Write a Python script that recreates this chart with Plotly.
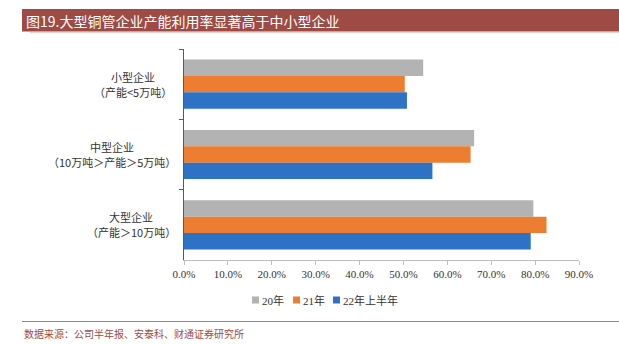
import plotly.graph_objects as go

cat_line1 = ["小型企业", "中型企业", "大型企业"]
cat_line2 = ["（产能<5万吨）", "（10万吨＞产能＞5万吨）", "（产能＞10万吨）"]
series_names = ["20年", "21年", "22年上半年"]
v20 = [54.5, 66.1, 79.6]
v21 = [50.3, 65.3, 82.6]
v22h1 = [50.8, 56.6, 79.0]
colors = ["#B3B3B3", "#ED7D31", "#2E72C6"]
x_ticks = [0, 10, 20, 30, 40, 50, 60, 70, 80, 90]

W, H = 619, 344
L, R, T, B = 184, 579, 49, 260

def px(x):
    return (x - L) / (R - L)

def py(y):
    return (B - y) / (B - T)

SERIF = "Liberation Serif, Noto Sans CJK SC, serif"
CJK = "Noto Sans CJK SC, sans-serif"

fig = go.Figure()
cat_ids = ["c0", "c1", "c2"]
for name, vals, col in zip(series_names, [v20, v21, v22h1], colors):
    fig.add_trace(go.Bar(
        y=cat_ids, x=vals, name=name, orientation="h",
        marker=dict(color=col, line=dict(width=0)),
        hoverinfo="skip", showlegend=False,
    ))

label_centers = [133, 112, 131]
annotations = []
for cid, l1, l2, cx in zip(cat_ids, cat_line1, cat_line2, label_centers):
    for txt, shift in ((l1, 7.5), (l2, -7.5)):
        annotations.append(dict(
            x=px(cx), xref="paper", y=cid, yref="y", text=txt, showarrow=False,
            xanchor="center", yanchor="middle", yshift=shift,
            font=dict(family=CJK, size=11, color="#333333"),
        ))

annotations.append(dict(
    x=px(24), xref="paper", y=py(20.5), yref="paper",
    text="图19.大型铜管企业产能利用率显著高于中小型企业", showarrow=False,
    xanchor="left", yanchor="middle",
    font=dict(family="Noto Sans CJK SC, sans-serif", size=14, color="#FFFFFF"),
))
annotations.append(dict(
    x=px(22), xref="paper", y=py(333), yref="paper",
    text="数据来源：公司半年报、安泰科、财通证券研究所", showarrow=False,
    xanchor="left", yanchor="middle",
    font=dict(family=CJK, size=10, color="#9E4A45"),
))

shapes = [
    dict(type="rect", xref="paper", yref="paper", x0=px(22), x1=px(619), y0=py(9), y1=py(31.5),
         fillcolor="#9E4A45", line=dict(width=0), layer="below"),
    dict(type="line", xref="paper", yref="paper", x0=px(30), x1=px(619), y0=py(32.5), y1=py(32.5),
         line=dict(color="#E8D0CF", width=1)),
    dict(type="line", xref="paper", yref="paper", x0=px(22), x1=px(619), y0=py(321.5), y1=py(321.5),
         line=dict(color="#B07C78", width=1)),
]

# legend (manual, to match compact reference spacing)
legend_x = [252, 293, 333]
for name, col, lx in zip(series_names, colors, legend_x):
    shapes.append(dict(type="rect", xref="paper", yref="paper",
                       x0=px(lx), x1=px(lx + 7), y0=py(296.5), y1=py(303.5),
                       fillcolor=col, line=dict(width=0)))
    annotations.append(dict(
        x=px(lx + 7.5), xref="paper", y=py(300), yref="paper", text=name, showarrow=False,
        xanchor="left", yanchor="middle",
        font=dict(family=SERIF, size=11, color="#333333"),
    ))

fig.update_layout(
    width=W, height=H,
    margin=dict(l=L, r=W - R, t=T, b=H - B, pad=0),
    paper_bgcolor="white", plot_bgcolor="white",
    barmode="group", bargap=0.3, bargroupgap=0,
    showlegend=False,
    annotations=annotations,
    shapes=shapes,
    xaxis=dict(range=[0, 90], tickvals=x_ticks, ticktext=[f"{v:.1f}%" for v in x_ticks],
               showgrid=False, zeroline=False, showline=True, linecolor="#BFBFBF", linewidth=1,
               ticks="outside", ticklen=4, tickcolor="#BFBFBF",
               tickfont=dict(family=SERIF, size=11, color="#333333"), fixedrange=True),
    yaxis=dict(categoryorder="array", categoryarray=cat_ids, autorange="reversed",
               showticklabels=False, showgrid=False, zeroline=False,
               showline=True, linecolor="#595959", linewidth=1,
               ticks="outside", ticklen=4, tickcolor="#595959", tickson="boundaries",
               fixedrange=True),
)

fig.write_html("out.html")
